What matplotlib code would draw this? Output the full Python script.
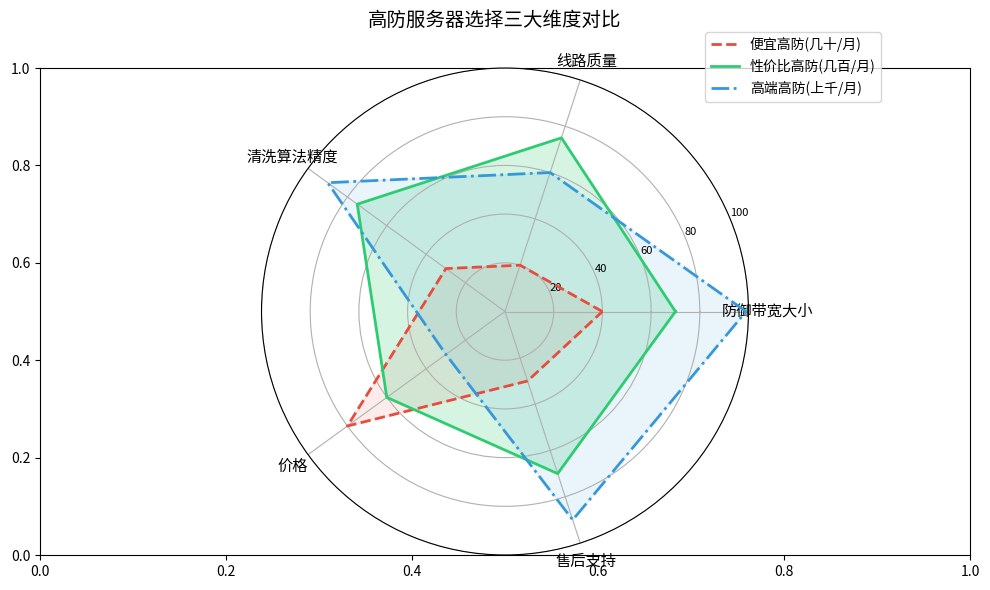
import numpy as np
import matplotlib
matplotlib.use("Agg")
import matplotlib.pyplot as plt
plt.rcParams['font.family'] = ['Noto Sans CJK SC', 'DejaVu Sans']
plt.rcParams['axes.unicode_minus'] = False

categories = ['防御带宽大小', '线路质量', '清洗算法精度', '价格', '售后支持']
series_names = ['便宜高防(几十/月)', '性价比高防(几百/月)', '高端高防(上千/月)']
cheap = [40, 20, 30, 80, 30]
mid = [70, 75, 75, 60, 70]
high = [99, 60, 90, 30, 90]
colors = ['#e74c3c', '#2ecc71', '#3498db']
styles = ['--', '-', '-.']

fig, ax0 = plt.subplots(figsize=(9.9, 5.9), dpi=100)
pos = [0.0404, 0.0593, 0.9394, 0.8254]
ax0.set_position(pos)
ax = fig.add_subplot(111, polar=True)
ax.set_position(pos)

n = len(categories)
angles = np.linspace(0, 2 * np.pi, n, endpoint=False).tolist()
angles_c = angles + angles[:1]
for name, vals, c, ls in zip(series_names, [cheap, mid, high], colors, styles):
    v = vals + vals[:1]
    ax.plot(angles_c, v, ls, color=c, linewidth=2, label=name)
    ax.fill(angles_c, v, color=c, alpha=0.1 if c != '#2ecc71' else 0.2)

ax.set_xticks(angles)
ax.set_xticklabels(categories, fontsize=11)
ax.set_ylim(0, 100)
ax.set_yticks([20, 40, 60, 80, 100])
ax.set_yticklabels(['20', '40', '60', '80', '100'], fontsize=8)
ax.set_rlabel_position(22.5)

fig.text(0.5, 0.966, '高防服务器选择三大维度对比', ha='center', va='center', fontsize=14)
ax.legend(loc='upper right', bbox_to_anchor=(0.897, 0.958), bbox_transform=fig.transFigure, fontsize=10)
fig.savefig('out.png', dpi=100)
